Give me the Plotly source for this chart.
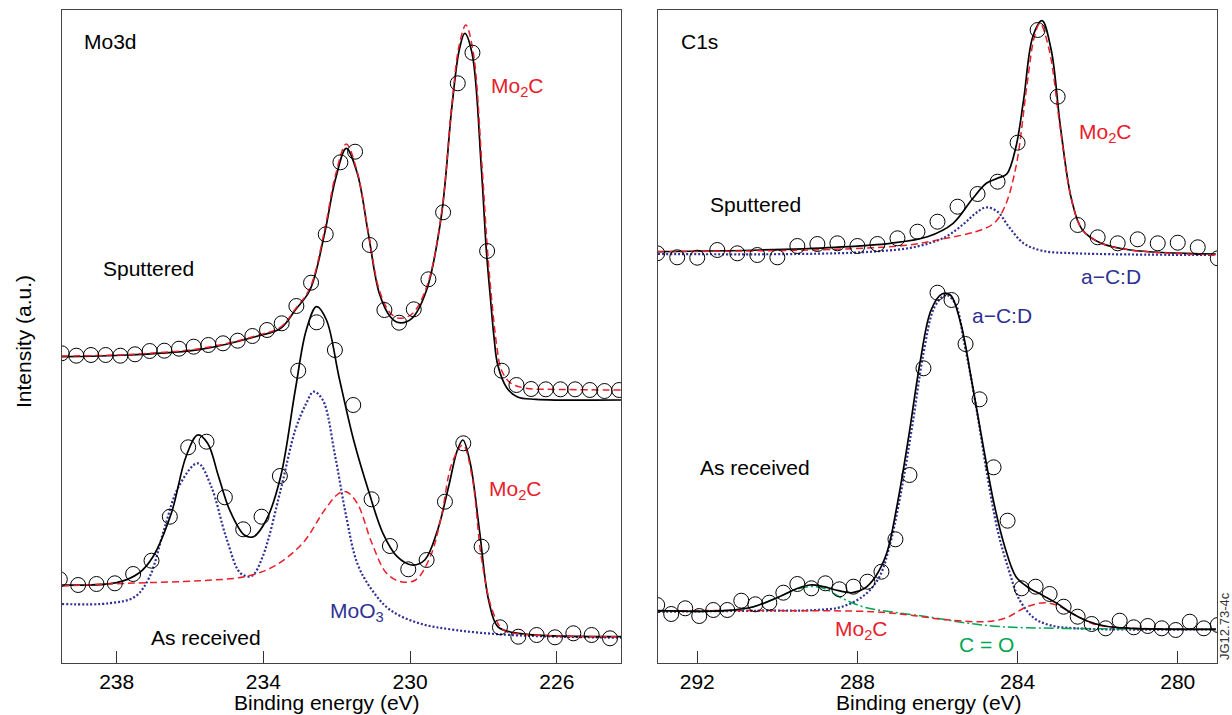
import plotly.graph_objects as go

# ---------------- Mo3d panel (left) ----------------
mo_sp_E = [239.5, 239.1, 238.7, 238.3, 237.9, 237.5, 237.1, 236.7, 236.3, 235.9, 235.5, 235.1,
           234.7, 234.3, 233.9, 233.5, 233.1, 232.7, 232.3, 231.9, 231.5, 231.1, 230.7, 230.3,
           229.9, 229.5, 229.1, 228.7, 228.3, 227.9, 227.5, 227.1, 226.7, 226.3, 225.9, 225.5,
           225.1, 224.7, 224.3]
mo_sp_I = [306.7, 304.3, 305, 305, 304.3, 305.7, 309, 309.3, 311.3, 313.3, 315, 316.7,
           319.3, 324, 330, 336.7, 354, 377.3, 425.7, 497.7, 508.3, 415, 350, 337.3,
           350.7, 380.7, 447.7, 576.7, 607.3, 409, 289.3, 275, 271, 270.7, 270.7, 270.7,
           270, 269, 270]

mo_sp_fit_E = [239.49, 237.70, 235.71, 234.22, 233.53, 233.13, 232.73, 232.33, 232.04, 231.74,
               231.44, 231.14, 230.84, 230.54, 230.30, 229.95, 229.55, 229.15, 228.86, 228.66,
               228.51, 228.31, 228.06, 227.92, 227.81, 227.71, 227.61, 227.36, 227.07, 226.57, 224.23]
mo_sp_fit_I = [303.3, 305, 310.7, 323.3, 331.7, 350, 370, 426.7, 480, 511.7,
               486.7, 426.7, 366.7, 343.3, 337.3, 341.7, 370, 443.3, 553.3, 610,
               626.7, 606.7, 493.3, 409, 362, 322, 295, 272, 263, 260.7, 260]

mo_sp_c_E = [239.49, 237.70, 235.71, 234.22, 233.53, 233.13, 232.73, 232.33, 232.04, 231.74,
             231.44, 231.14, 230.84, 230.54, 230.30, 229.95, 229.55, 229.15, 228.86, 228.66,
             228.48, 228.28, 228.04, 227.88, 227.76, 227.64, 227.51, 227.26, 226.87, 225.77, 224.23]
mo_sp_c_I = [304, 305.5, 311.5, 324, 333, 351, 372, 430, 484, 516,
             488, 428, 370, 347, 341.7, 346, 373, 445, 556, 615,
             635, 608, 495, 405, 355, 315, 290, 277, 272, 270.5, 270]

mo_ar_E = [239.55, 239.05, 238.55, 238.05, 237.55, 237.05, 236.55, 236.05, 235.55, 235.05,
           234.55, 234.05, 233.55, 233.05, 232.55, 232.05, 231.55, 231.05, 230.55, 230.05,
           229.55, 229.05, 228.55, 228.05, 227.55, 227.05, 226.55, 226.05, 225.55, 225.05, 224.55]
mo_ar_I = [80.7, 75, 76, 76.7, 86, 99.3, 143.3, 212.7, 218.3, 162.7,
           130.7, 143.3, 184, 289.3, 337.7, 310, 255, 160.7, 114, 90.7,
           100, 158.3, 216.7, 113.3, 32.7, 23.3, 25, 22.7, 26.7, 25, 21.7]

mo_ar_fit_E = [239.49, 238.00, 237.40, 237.01, 236.51, 236.11, 235.79, 235.52, 235.22, 234.92,
               234.52, 234.27, 233.92, 233.53, 233.13, 232.83, 232.55, 232.28, 231.94, 231.54,
               231.14, 230.74, 230.35, 229.95, 229.60, 229.25, 228.95, 228.71, 228.56, 228.36,
               228.11, 227.86, 227.61, 227.17, 226.27, 224.23]
mo_ar_fit_I = [75, 77.3, 86.7, 103.3, 146.7, 203.3, 225, 216.7, 183.3, 150,
               125, 123.3, 140, 183.3, 270, 330, 353.3, 340, 283.3, 220,
               170, 126.7, 103.3, 95, 100, 130, 173.3, 210, 220, 196.7,
               130, 60, 33.3, 27.3, 24.3, 23.3]

mo_ar_ox_E = [239.49, 238.20, 237.50, 237.10, 236.71, 236.31, 235.79, 235.42, 235.02, 234.62,
              234.32, 234.02, 233.53, 233.13, 232.83, 232.63, 232.38, 232.04, 231.74, 231.44,
              231.04, 230.54, 229.75, 228.76, 227.26, 224.23]
mo_ar_ox_I = [56, 56.7, 63.3, 83.3, 130, 173.3, 196.7, 173.3, 123.3, 86.7,
              84, 103.3, 170, 230, 256.7, 268.3, 260, 203.3, 143.3, 96.7,
              70, 50, 36.7, 30, 25, 22.3]

mo_ar_c_E = [239.49, 237.70, 235.71, 234.52, 233.73, 232.93, 232.33, 231.94, 231.74, 231.44,
             231.04, 230.64, 230.25, 229.85, 229.45, 229.15, 228.86, 228.56, 228.31, 228.06,
             227.76, 227.46, 226.97, 224.23]
mo_ar_c_I = [74, 76.7, 79.3, 83.3, 93.3, 116.7, 150, 166.7, 168.3, 156.7,
             116.7, 86.7, 78.3, 80, 103.3, 143.3, 196.7, 215, 183.3, 103.3,
             50, 30, 26, 23.3]

# ---------------- C1s panel (right) ----------------
c_sp_E = [293.0, 292.5, 292.0, 291.5, 291.0, 290.5, 290.0, 289.5, 289.0, 288.5, 288.0, 287.5,
          287.0, 286.5, 286.0, 285.5, 285.0, 284.5, 284.0, 283.5, 283.0, 282.5, 282.0, 281.5,
          281.0, 280.5, 280.0, 279.5, 279.0]
c_sp_I = [406.7, 402.7, 402.3, 410, 406.7, 405, 402.7, 414, 416, 416.7, 414, 416,
          421.7, 428.3, 438.3, 453.3, 466, 478.3, 517.3, 630, 563.3, 435, 422.7, 416.7,
          420.7, 416.7, 417.3, 412.7, 401.7]

c_sp_fit_E = [292.98, 290.41, 288.56, 287.18, 286.25, 285.61, 285.15, 284.78, 284.50, 284.27,
              284.04, 283.85, 283.62, 283.39, 283.16, 282.93, 282.65, 282.38, 281.91, 281.18, 279.05]
c_sp_fit_I = [408.3, 410, 412.7, 416.7, 423.3, 436.7, 460, 476.7, 481.7, 486,
              513.3, 560, 623.3, 639.3, 610, 533.3, 460, 430, 416.7, 410, 406]

c_sp_c_E = [292.98, 288.56, 286.72, 285.79, 285.05, 284.59, 284.32, 284.04, 283.76, 283.58,
            283.44, 283.21, 282.93, 282.65, 282.38, 281.91, 281.18, 279.05]
c_sp_c_I = [408.3, 410.7, 415, 421.7, 428.3, 436.7, 453.3, 493.3, 576.7, 623.3,
            636.7, 610, 530, 460, 430, 416.7, 410, 405]

c_sp_a_E = [292.98, 289.49, 287.64, 286.53, 285.79, 285.33, 285.05, 284.78, 284.50, 284.22,
            283.85, 283.39, 282.56, 279.05]
c_sp_a_I = [406, 406, 408.3, 413.3, 423.3, 436.7, 446.7, 452.7, 448.3, 433.3,
            416.7, 409.3, 406.7, 405]

c_ar_E = [293.0, 292.65, 292.3, 291.95, 291.6, 291.25, 290.9, 290.55, 290.2, 289.85,
          289.5, 289.15, 288.8, 288.45, 288.1, 287.75, 287.4, 287.05, 286.7, 286.35,
          286.0, 285.65, 285.3, 284.95, 284.6, 284.25, 283.9, 283.55, 283.2, 282.85,
          282.5, 282.15, 281.8, 281.45, 281.1, 280.75, 280.4, 280.05, 279.7, 279.35, 279.0]
c_ar_I = [55, 46, 51.7, 44, 50, 50, 59.3, 55.7, 57.3, 67.3,
          76, 71.7, 76.7, 70.7, 73.3, 78.3, 88.3, 120.7, 185, 291.7,
          367.3, 360, 316, 260.7, 192.7, 139.3, 71.7, 73.3, 66, 53.3,
          43.3, 36, 31.7, 39.3, 32.7, 34, 31.7, 30, 38.3, 31.7, 35]

c_ar_fit_E = [292.98, 291.33, 290.59, 289.95, 289.49, 289.18, 288.84, 288.47, 288.12, 287.82,
              287.55, 287.27, 287.00, 286.72, 286.44, 286.16, 285.89, 285.68, 285.42, 285.15,
              284.87, 284.59, 284.32, 284.04, 283.76, 283.39, 283.02, 282.65, 282.28, 281.82,
              281.18, 279.05]
c_ar_fit_I = [49.3, 49.3, 53.3, 63.3, 71.7, 75, 73.3, 69.3, 67.3, 71.7,
              83.3, 106.7, 156.7, 223.3, 296.7, 350, 366, 365, 336.7, 280,
              216.7, 156.7, 113.3, 83.3, 73.3, 65, 56.7, 46.7, 39.3, 34,
              31.7, 30.7]

c_ar_a_E = [292.98, 290.41, 289.03, 288.38, 287.82, 287.45, 287.18, 286.90, 286.62, 286.35,
            286.07, 285.79, 285.56, 285.33, 285.05, 284.78, 284.50, 284.22, 283.95, 283.58,
            283.21, 282.56, 279.05]
c_ar_a_I = [48.3, 49.3, 50, 53.3, 65, 83.3, 116.7, 170, 236.7, 306.7,
            353.3, 365, 356.7, 316.7, 256.7, 190, 130, 90, 60, 41.7,
            35, 31.7, 30.7]

c_ar_c_E = [292.98, 289.49, 287.64, 286.72, 285.79, 284.87, 284.32, 283.76, 283.30, 282.93,
            282.56, 282.10, 281.55, 279.05]
c_ar_c_I = [49.3, 49.3, 48.3, 45, 40.3, 38.3, 41.7, 53.3, 57.3, 53.3,
            45, 36, 32.7, 30.7]

c_ar_o_E = [292.98, 290.87, 290.13, 289.57, 289.21, 288.84, 288.38, 287.82, 287.18, 286.25,
            285.33, 284.41, 283.02, 279.05]
c_ar_o_I = [49.3, 50.7, 60, 70, 73.3, 71.7, 61.7, 52.7, 48.3, 43.3,
            37.3, 33.3, 31.7, 30.7]

mo_ticks = [238, 234, 230, 226]
c_ticks = [292, 288, 284, 280]

RED = "#e8202a"
BLUE = "#2e3192"
GREEN = "#00a651"
FONT = "Liberation Sans, Arial, sans-serif"
FS = 21

fig = go.Figure()


def line(x, y, ax, color, dash="solid", width=1.6):
    fig.add_trace(go.Scatter(x=x, y=y, mode="lines", xaxis=ax[0], yaxis=ax[1],
                             line=dict(color=color, width=width, dash=dash, shape="spline", smoothing=1.0),
                             hoverinfo="skip"))


def circles(x, y, ax):
    fig.add_trace(go.Scatter(x=x, y=y, mode="markers", xaxis=ax[0], yaxis=ax[1],
                             marker=dict(symbol="circle-open", size=15, color="black",
                                         line=dict(width=1, color="black"))))


L = ("x", "y")
R = ("x2", "y2")
DASH = "7px,4px"
DOT = "2px,2px"
DASHDOT = "10px,3px,2px,3px"

# left panel
line(mo_ar_ox_E, mo_ar_ox_I, L, BLUE, DOT, 2.2)
line(mo_ar_fit_E, mo_ar_fit_I, L, "black", "solid", 1.7)
line(mo_ar_c_E, mo_ar_c_I, L, RED, DASH, 1.5)
line(mo_sp_fit_E, mo_sp_fit_I, L, "black", "solid", 1.7)
line(mo_sp_c_E, mo_sp_c_I, L, RED, DASH, 1.5)
circles(mo_sp_E, mo_sp_I, L)
circles(mo_ar_E, mo_ar_I, L)

# right panel
line(c_sp_a_E, c_sp_a_I, R, BLUE, DOT, 2.2)
line(c_sp_fit_E, c_sp_fit_I, R, "black", "solid", 1.7)
line(c_sp_c_E, c_sp_c_I, R, RED, DASH, 1.5)
line(c_ar_a_E, c_ar_a_I, R, BLUE, DOT, 2.2)
line(c_ar_o_E, c_ar_o_I, R, GREEN, DASHDOT, 1.5)
line(c_ar_c_E, c_ar_c_I, R, RED, DASH, 1.5)
line(c_ar_fit_E, c_ar_fit_I, R, "black", "solid", 1.7)
circles(c_sp_E, c_sp_I, R)
circles(c_ar_E, c_ar_I, R)

xcommon = dict(ticks="inside", ticklen=12, tickwidth=1, tickcolor="#333", showline=True,
               linecolor="#444", linewidth=1, mirror=True, showgrid=False, zeroline=False,
               tickfont=dict(size=FS, family=FONT, color="black"))
ycommon = dict(range=[-3, 650], showticklabels=False, ticks="", showline=True, linecolor="#444",
               linewidth=1, mirror=True, showgrid=False, zeroline=False)

ydom = [(715 - 663) / 715, (715 - 10) / 715]

fig.update_layout(
    width=1232, height=715, margin=dict(l=0, r=0, t=0, b=0),
    paper_bgcolor="white", plot_bgcolor="white", showlegend=False,
    font=dict(family=FONT, size=FS, color="black"),
    xaxis=dict(domain=[62 / 1232, 621 / 1232], range=[239.49, 224.25], tickvals=mo_ticks,
               anchor="y", **xcommon),
    yaxis=dict(domain=ydom, anchor="x", **ycommon),
    xaxis2=dict(domain=[658 / 1232, 1217 / 1232], range=[292.98, 279.02], tickvals=c_ticks,
                anchor="y2", **xcommon),
    yaxis2=dict(domain=ydom, anchor="x2", **ycommon),
)


def txt(x, y, s, ax, color="black", size=FS, xanchor="left"):
    fig.add_annotation(x=x, y=y, xref=ax[0], yref=ax[1], text=s, showarrow=False,
                       xanchor=xanchor, yanchor="middle",
                       font=dict(size=size, color=color, family=FONT))


txt(238.95, 618, "Mo3d", L)
txt(227.84, 573, "Mo<sub>2</sub>C", L, RED)
txt(238.44, 392, "Sputtered", L)
txt(227.90, 170, "Mo<sub>2</sub>C", L, RED)
txt(232.23, 48, "MoO<sub>3</sub>", L, BLUE)
txt(237.13, 23, "As received", L)

txt(292.46, 618, "C1s", R)
txt(282.52, 527, "Mo<sub>2</sub>C", R, RED)
txt(291.72, 455, "Sputtered", R)
txt(282.47, 384, "a\u2212C:D", R, BLUE)
txt(285.19, 345, "a\u2212C:D", R, BLUE)
txt(291.98, 193, "As received", R)
txt(288.61, 30, "Mo<sub>2</sub>C", R, RED)
txt(285.52, 16, "C = O", R, GREEN)

ylab = (715 - 702) / 715
fig.add_annotation(x=232.27, y=ylab, xref="x", yref="paper", text="Binding energy (eV)",
                   showarrow=False, xanchor="center", yanchor="middle",
                   font=dict(size=FS, family=FONT, color="black"))
fig.add_annotation(x=286.22, y=ylab, xref="x2", yref="paper", text="Binding energy (eV)",
                   showarrow=False, xanchor="center", yanchor="middle",
                   font=dict(size=FS, family=FONT, color="black"))
fig.add_annotation(x=24 / 1232, y=(715 - 342) / 715, xref="paper", yref="paper",
                   text="Intensity (a.u.)", textangle=-90, showarrow=False,
                   xanchor="center", yanchor="middle",
                   font=dict(size=FS, family=FONT, color="black"))
fig.add_annotation(x=1224 / 1232, y=(715 - 626) / 715, xref="paper", yref="paper",
                   text="JG12.73-4c", textangle=-90, showarrow=False,
                   xanchor="center", yanchor="middle",
                   font=dict(size=13, family=FONT, color="#333"))

fig.write_html("out.html", config={"displayModeBar": False},
               post_script="document.body.style.margin='0';document.body.style.overflow='hidden';")
